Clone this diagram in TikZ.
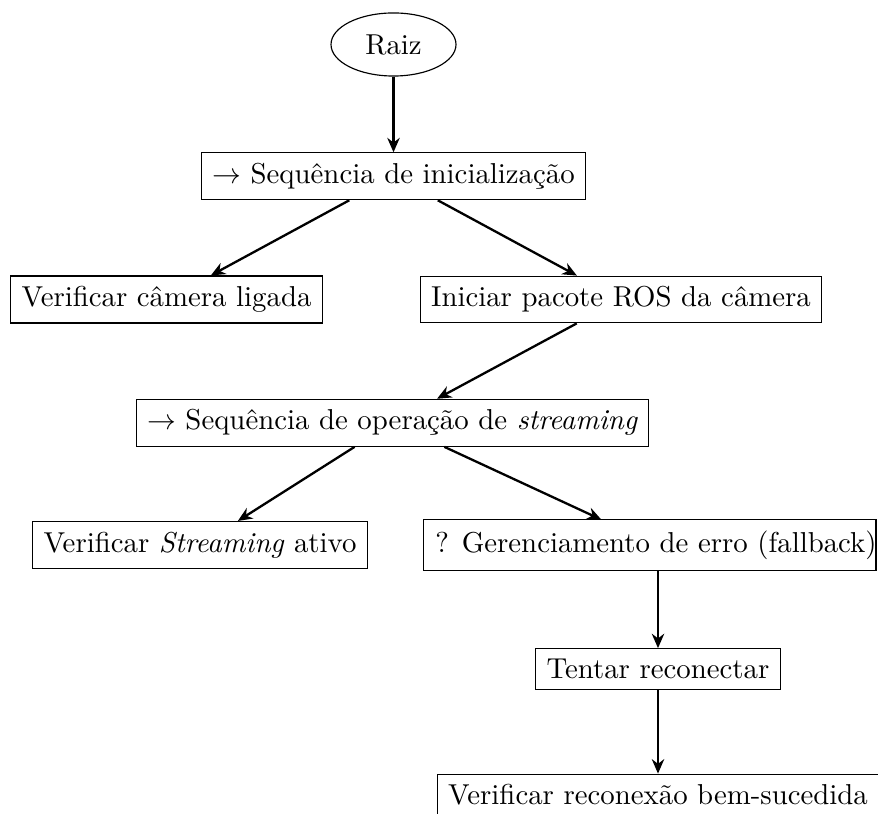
\documentclass[tikz,border=0pt]{standalone}
\usetikzlibrary{shapes.geometric,arrows.meta}
\begin{document}
\begin{tikzpicture}[x=0.3472pt,y=-0.3472pt,
  box/.style={draw,rectangle,line width=0.4pt,inner xsep=3.8pt,inner ysep=3.6pt},
  oval/.style={draw,ellipse,line width=0.4pt,minimum width=43.4pt,minimum height=21.9pt,inner sep=0pt},
  edge/.style={thick,-{Stealth[length=5pt,width=4.3pt]}}]
\useasboundingbox (0,0) rectangle (878,814);
\node[oval] (raiz) at (393.5,44.5) {Raiz};
\node[box] (init) at (393.5,176.3) {$\rightarrow$ Sequência de inicialização};
\node[box] (cam) at (166.5,299.5) {Verificar câmera ligada};
\node[box] (ros) at (621,299.5) {Iniciar pacote ROS da câmera};
\node[box] (op) at (392.5,422.8) {$\rightarrow$ Sequência de operação de \textit{streaming}};
\node[box] (str) at (200,545) {Verificar \textit{Streaming} ativo};
\node[box,draw=none] (err) at (656,545) {? Gerenciamento de erro (fallback)};
\coordinate (errR) at (876,545);
\draw[line width=0.4pt] (err.north west) rectangle (errR |- err.south);
\node[box] (rec) at (658,669) {Tentar reconectar};
\node[box] (ok) at (658,795) {Verificar reconexão bem-sucedida};
\draw[edge] (raiz) -- (init);
\draw[edge] (init) -- (cam);
\draw[edge] (init) -- (ros);
\draw[edge] (ros) -- (op);
\draw[edge] (op) -- (str);
\draw[edge] (op) -- (err);
\draw[edge] (err.south -| rec.north) -- (rec);
\draw[edge] (rec) -- (ok);
\end{tikzpicture}
\end{document}
